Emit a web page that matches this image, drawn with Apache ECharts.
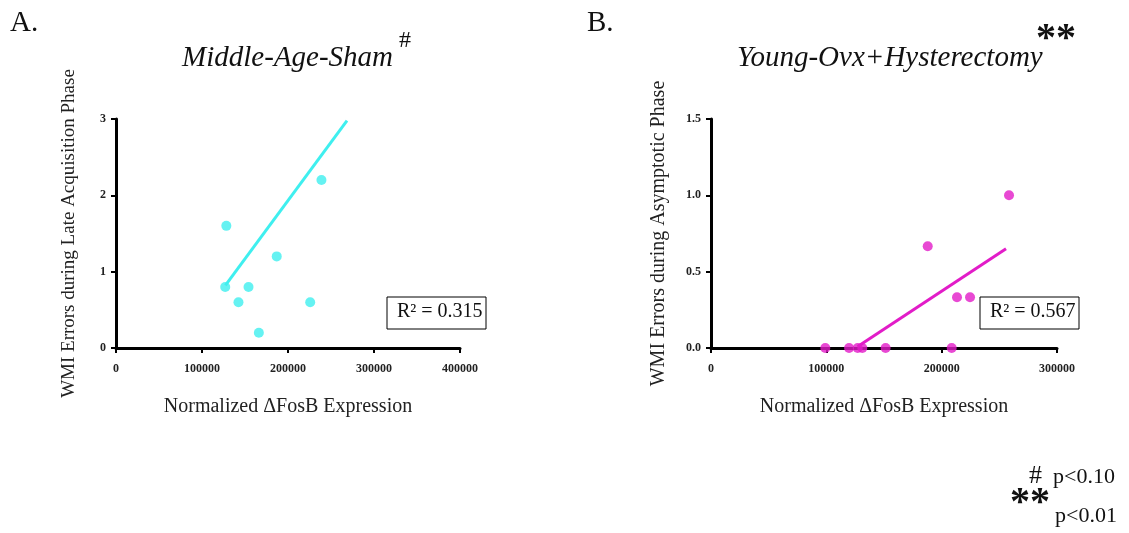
<!DOCTYPE html>
<html><head><meta charset="utf-8">
<script src="https://cdn.jsdelivr.net/npm/echarts@6/dist/echarts.min.js"></script>
<style>html,body{margin:0;padding:0;background:#fff}#c{width:1129px;height:533px}</style>
</head><body><div id="c"></div>
<script>
// Panel A: Middle-Age-Sham
const xA = [127000, 128300, 142400, 154100, 166100, 186900, 225800, 238900];
const yA = [0.8, 1.6, 0.6, 0.8, 0.2, 1.2, 0.6, 2.2];
const fitAx = [127200, 268600];
const fitAy = [0.82, 2.98];
// Panel B: Young-Ovx+Hysterectomy
const xB = [99100, 119700, 127200, 131200, 151400, 187900, 208700, 213300, 224600, 258400];
const yB = [0, 0, 0, 0, 0, 0.667, 0, 0.333, 0.333, 1.0];
const fitBx = [127200, 255800];
const fitBy = [0.01, 0.65];
const ticksAx = [0, 100000, 200000, 300000, 400000];
const ticksAy = [0, 1, 2, 3];
const ticksBx = [0, 100000, 200000, 300000];
const ticksBy = [0, 0.5, 1.0, 1.5];

const serif = '"Liberation Serif","DejaVu Serif",serif';
const cyan = '#3FEFEF', mag = '#E21CC8';
function pairs(xs, ys){ return xs.map((x,i)=>[x, ys[i]]); }
function xAxis(idx, ticks){
  return {gridIndex: idx, type:'value', min: ticks[0], max: ticks[ticks.length-1], interval: ticks[1]-ticks[0],
    name: 'Normalized \u0394FosB Expression', nameLocation:'middle', nameGap: 49,
    nameTextStyle:{fontFamily: serif, fontSize: 20, color:'#222'},
    axisLine:{show:true, lineStyle:{color:'#000', width:3}},
    axisTick:{show:true, length:5, lineStyle:{color:'#000', width:2}},
    axisLabel:{fontFamily: serif, fontWeight:'bold', fontSize:12, color:'#222', margin:15,
      formatter: v => String(v)},
    splitLine:{show:false}};
}
function yAxis(idx, ticks, name, gap, dec, fs){
  return {gridIndex: idx, type:'value', min: ticks[0], max: ticks[ticks.length-1], interval: ticks[1]-ticks[0],
    name: name, nameLocation:'middle', nameGap: gap,
    nameTextStyle:{fontFamily: serif, fontSize: fs, color:'#222'},
    axisLine:{show:true, lineStyle:{color:'#000', width:3}},
    axisTick:{show:true, length:5, lineStyle:{color:'#000', width:2}},
    axisLabel:{fontFamily: serif, fontWeight:'bold', fontSize:12, color:'#222', margin:10,
      formatter: v => v.toFixed(dec)},
    splitLine:{show:false}};
}
function txt(x, y, s, size, opts){
  return Object.assign({type:'text', x:x, y:y, style:Object.assign({text:s, font: size+'px '+serif, fill:'#111'}, opts||{})});
}
const chart = echarts.init(document.getElementById('c'));
chart.setOption({
  animation:false,
  grid:[{left:116, top:119, width:344, height:229},{left:711, top:119, width:346, height:229}],
  xAxis:[xAxis(0, ticksAx), xAxis(1, ticksBx)],
  yAxis:[yAxis(0, ticksAy, 'WMI Errors during Late Acquisition Phase', 37, 0, 19),
         yAxis(1, ticksBy, 'WMI Errors during Asymptotic Phase', 42, 1, 20)],
  series:[
    {type:'line', xAxisIndex:0, yAxisIndex:0, data: pairs(fitAx, fitAy), showSymbol:false, lineStyle:{color:cyan, width:3}},
    {type:'scatter', xAxisIndex:0, yAxisIndex:0, data: pairs(xA, yA), symbolSize:10, itemStyle:{color:cyan}},
    {type:'line', xAxisIndex:1, yAxisIndex:1, data: pairs(fitBx, fitBy), showSymbol:false, lineStyle:{color:mag, width:3}},
    {type:'scatter', xAxisIndex:1, yAxisIndex:1, data: pairs(xB, yB), symbolSize:10, itemStyle:{color:mag}}
  ],
  graphic:[
    txt(10, 9, 'A.', 29),
    txt(587, 9, 'B.', 29),
    txt(182, 44, 'Middle-Age-Sham', 29, {font:'italic 29px '+serif}),
    txt(399, 29, '#', 24),
    txt(737, 44, 'Young-Ovx+Hysterectomy', 29, {font:'italic 29px '+serif}),
    txt(1036, 20, '**', 40, {font:'bold 40px '+serif}),
    {type:'rect', shape:{x:387, y:297, width:99, height:32}, style:{fill:'#fff', stroke:'#000', lineWidth:1}},
    txt(397, 302, 'R\u00B2 = 0.315', 20),
    {type:'rect', shape:{x:980, y:297, width:99, height:32}, style:{fill:'#fff', stroke:'#000', lineWidth:1}},
    txt(990, 302, 'R\u00B2 = 0.567', 20),
    txt(1029, 463, '#', 26),
    txt(1053, 466, 'p<0.10', 22),
    txt(1010, 484, '**', 40, {font:'bold 40px '+serif}),
    txt(1055, 505, 'p<0.01', 22)
  ]
});
</script></body></html>
